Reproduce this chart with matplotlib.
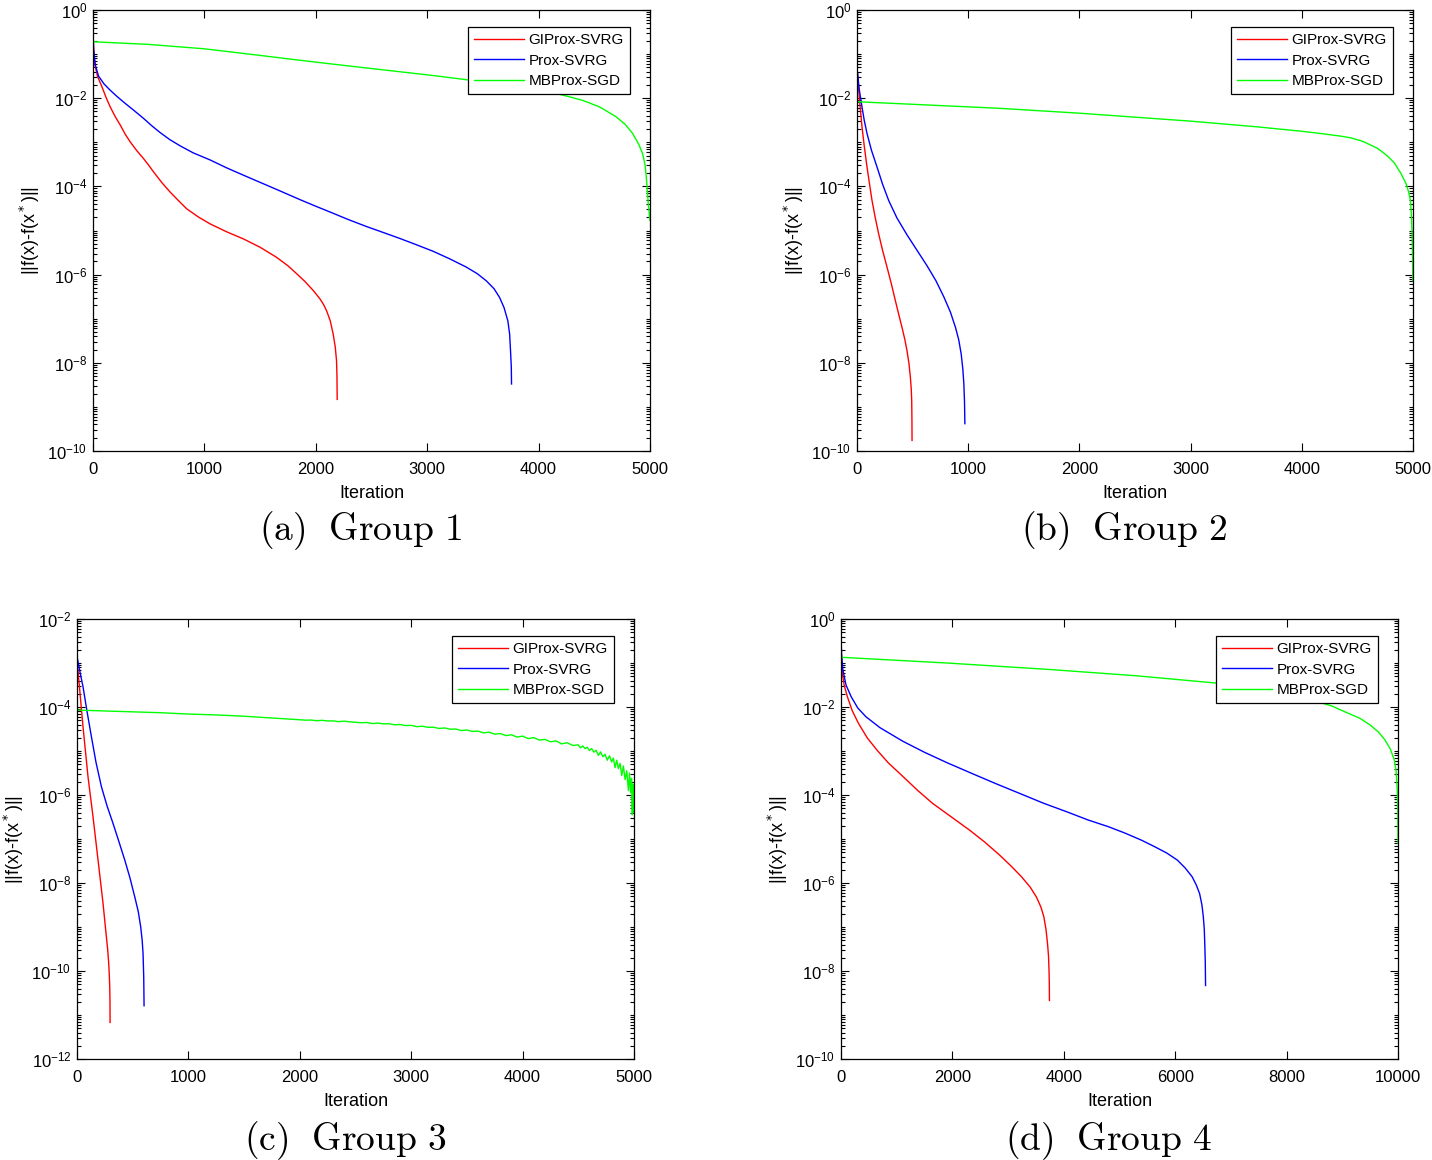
import numpy as np
import matplotlib
matplotlib.use("Agg")
import matplotlib.pyplot as plt
from matplotlib.ticker import FixedLocator, LogFormatterSciNotation, NullFormatter

plt.rcParams['font.family'] = ['Liberation Sans', 'DejaVu Sans']

labels = ["GIProx-SVRG", "Prox-SVRG", "MBProx-SGD"]
colors = ["#ff0000", "#0000ff", "#00ff00"]
captions = ["(a)", "(b)", "(c)", "(d)"]
groups = ["Group 1", "Group 2", "Group 3", "Group 4"]

# ---- Group 1 (values stored as log10 of ||f(x)-f(x*)||) ----
red_a_it = [0, 5, 15, 40, 80, 120, 155, 200, 245, 290, 334, 390, 454, 500, 543, 620, 693, 770, 842, 950,
            1051, 1200, 1350, 1500, 1649, 1750, 1828, 1900, 1977, 2037, 2070, 2097, 2130, 2156, 2175, 2186,
            2190, 2192]
red_a_lg = [-0.53, -0.85, -1.21, -1.50, -1.74, -2.00, -2.20, -2.42, -2.61, -2.82, -2.99, -3.18, -3.37, -3.52,
            -3.67, -3.92, -4.13, -4.33, -4.51, -4.70, -4.85, -5.03, -5.19, -5.38, -5.61, -5.80, -5.98, -6.15,
            -6.36, -6.55, -6.68, -6.82, -7.05, -7.35, -7.65, -7.95, -8.30, -8.83]
blue_a_it = [0, 6, 21, 50, 100, 155, 215, 290, 364, 450, 530, 603, 690, 782, 900, 1051, 1200, 1400, 1649,
             1858, 2000, 2156, 2300, 2455, 2600, 2754, 2900, 3052, 3200, 3351, 3450, 3530, 3600, 3650, 3690,
             3724, 3740, 3748, 3755, 3757]
blue_a_lg = [-0.49, -0.91, -1.25, -1.50, -1.68, -1.82, -1.96, -2.12, -2.27, -2.45, -2.63, -2.78, -2.94, -3.08,
             -3.24, -3.40, -3.58, -3.80, -4.07, -4.30, -4.45, -4.61, -4.76, -4.91, -5.04, -5.18, -5.32, -5.47,
             -5.64, -5.83, -5.98, -6.14, -6.32, -6.52, -6.75, -7.05, -7.35, -7.73, -8.10, -8.48]
green_a_it = [0, 500, 1000, 1500, 1858, 2300, 2754, 3100, 3381, 3750, 4098, 4250, 4396, 4550, 4695, 4780,
              4844, 4900, 4934, 4955, 4964, 4972, 4978, 4985, 4992, 5000]
green_a_lg = [-0.72, -0.78, -0.88, -1.03, -1.14, -1.27, -1.40, -1.50, -1.59, -1.72, -1.86, -1.95, -2.05, -2.20,
              -2.42, -2.60, -2.80, -3.05, -3.26, -3.50, -3.71, -3.95, -4.17, -4.40, -4.60, -4.77]

# ---- Group 2 ----
red_b_it = [0, 5, 15, 23, 45, 65, 90, 110, 135, 165, 195, 230, 270, 310, 345, 375, 405, 430, 450, 468, 480,
            488, 492, 494, 495]
red_b_lg = [-1.32, -1.45, -1.80, -2.05, -2.65, -3.08, -3.56, -3.90, -4.32, -4.72, -5.08, -5.45, -5.83, -6.22,
            -6.59, -6.90, -7.20, -7.47, -7.73, -8.03, -8.33, -8.60, -8.86, -9.30, -9.76]
blue_b_it = [0, 10, 20, 45, 65, 90, 130, 180, 230, 285, 360, 450, 540, 630, 710, 780, 840, 886, 915, 937,
             952, 961, 967, 970]
blue_b_lg = [-1.32, -1.55, -1.80, -2.20, -2.50, -2.80, -3.18, -3.56, -3.95, -4.32, -4.72, -5.10, -5.45, -5.80,
             -6.14, -6.50, -6.85, -7.20, -7.48, -7.80, -8.15, -8.48, -8.90, -9.38]
green_b_it = [0, 1288, 2000, 3000, 3600, 4000, 4200, 4350, 4443, 4550, 4683, 4770, 4833, 4890, 4938, 4960,
              4977, 4986, 4992, 4996, 4998]
green_b_lg = [-2.08, -2.23, -2.34, -2.52, -2.65, -2.75, -2.81, -2.86, -2.90, -2.98, -3.14, -3.31, -3.47, -3.70,
              -3.94, -4.12, -4.32, -4.65, -5.08, -5.60, -6.14]

# ---- Group 3 ----
red_c_it = [0, 24, 54, 99, 144, 189, 234, 264, 275, 285, 290, 294, 296, 297]
red_c_lg = [-2.93, -3.60, -4.45, -5.59, -6.50, -7.48, -8.47, -9.23, -9.50, -9.84, -10.10, -10.37, -10.70, -11.17]
blue_c_it = [0, 25, 54, 90, 129, 170, 219, 270, 324, 375, 429, 475, 519, 550, 572, 585, 593, 599, 602]
blue_c_lg = [-2.85, -3.18, -3.54, -4.10, -4.67, -5.25, -5.81, -6.25, -6.65, -7.05, -7.48, -7.88, -8.32, -8.65,
             -9.00, -9.30, -9.61, -10.14, -10.79]
green_c_it = [0, 250, 500, 750, 1000, 1250, 1500, 1750, 2000, 2050, 2100, 2150, 2200, 2250, 2300, 2350,
              2400, 2450, 2500, 2550, 2600, 2650, 2700, 2750, 2800, 2850, 2900, 2950, 3000, 3050, 3100,
              3150, 3200, 3250, 3300, 3350, 3400, 3450, 3500, 3550, 3600, 3650, 3700, 3750, 3800, 3850,
              3900, 3950, 4000, 4050, 4100, 4150, 4200, 4250, 4300, 4350, 4400, 4450, 4500, 4520, 4540,
              4560, 4580, 4600, 4620, 4640, 4660, 4680, 4700, 4720, 4740, 4760, 4780, 4800, 4815, 4830,
              4845, 4860, 4875, 4890, 4905, 4920, 4935, 4950, 4960, 4970, 4978, 4985, 4990, 4995, 5000]
green_c_lg = [-4.07, -4.09, -4.11, -4.13, -4.16, -4.18, -4.21, -4.25, -4.290, -4.300, -4.296, -4.312, -4.303,
              -4.318, -4.315, -4.333, -4.322, -4.338, -4.347, -4.358, -4.352, -4.376, -4.366, -4.383, -4.380,
              -4.404, -4.398, -4.421, -4.418, -4.446, -4.437, -4.462, -4.459, -4.488, -4.476, -4.505, -4.500,
              -4.536, -4.522, -4.555, -4.548, -4.588, -4.572, -4.618, -4.604, -4.650, -4.632, -4.684, -4.662,
              -4.718, -4.695, -4.752, -4.736, -4.790, -4.770, -4.838, -4.812, -4.875, -4.860, -4.930, -4.885,
              -4.945, -4.915, -4.990, -4.945, -5.025, -4.985, -5.100, -5.020, -5.130, -5.075, -5.210, -5.110,
              -5.250, -5.160, -5.380, -5.210, -5.400, -5.280, -5.560, -5.340, -5.650, -5.450, -5.900, -5.500,
              -5.950, -5.620, -6.450, -5.750, -6.400, -6.000]

# ---- Group 4 ----
red_d_it = [0, 10, 33, 60, 113, 200, 313, 470, 646, 850, 1112, 1380, 1644, 1950, 2310, 2580, 2843, 3050,
            3242, 3400, 3509, 3590, 3642, 3680, 3708, 3725, 3735, 3740, 3742]
red_d_lg = [-0.47, -0.95, -1.31, -1.52, -1.76, -2.08, -2.37, -2.70, -2.98, -3.27, -3.58, -3.90, -4.19, -4.47,
            -4.80, -5.07, -5.36, -5.61, -5.86, -6.10, -6.32, -6.55, -6.77, -7.05, -7.38, -7.65, -7.99, -8.30,
            -8.67]
blue_d_it = [0, 10, 33, 90, 180, 300, 446, 700, 1112, 1500, 1911, 2350, 2776, 3200, 3642, 4050, 4441, 4800,
             5107, 5400, 5639, 5850, 6039, 6180, 6305, 6380, 6438, 6480, 6505, 6522, 6531, 6540, 6545]
blue_d_lg = [-0.39, -0.80, -1.15, -1.50, -1.76, -2.02, -2.22, -2.47, -2.78, -3.03, -3.27, -3.51, -3.74, -3.96,
             -4.19, -4.38, -4.57, -4.72, -4.87, -5.03, -5.18, -5.32, -5.48, -5.66, -5.86, -6.05, -6.24, -6.50,
             -6.77, -7.05, -7.38, -7.80, -8.33]
green_d_it = [0, 1900, 3775, 5300, 6771, 7700, 8435, 8800, 9101, 9320, 9501, 9650, 9767, 9860, 9933, 9965,
              9980, 9990, 9996, 10000]
green_d_lg = [-0.87, -1.00, -1.15, -1.29, -1.46, -1.62, -1.84, -1.97, -2.14, -2.26, -2.41, -2.57, -2.75, -2.95,
              -3.20, -3.45, -3.74, -4.00, -4.34, -5.10]

panels = [
    dict(series=[(red_a_it, red_a_lg), (blue_a_it, blue_a_lg), (green_a_it, green_a_lg)],
         xmax=5000, xticks=[0, 1000, 2000, 3000, 4000, 5000], ylo=-10, yhi=0),
    dict(series=[(red_b_it, red_b_lg), (blue_b_it, blue_b_lg), (green_b_it, green_b_lg)],
         xmax=5000, xticks=[0, 1000, 2000, 3000, 4000, 5000], ylo=-10, yhi=0),
    dict(series=[(red_c_it, red_c_lg), (blue_c_it, blue_c_lg), (green_c_it, green_c_lg)],
         xmax=5000, xticks=[0, 1000, 2000, 3000, 4000, 5000], ylo=-12, yhi=-2),
    dict(series=[(red_d_it, red_d_lg), (blue_d_it, blue_d_lg), (green_d_it, green_d_lg)],
         xmax=10000, xticks=[0, 2000, 4000, 6000, 8000, 10000], ylo=-10, yhi=0),
]

W, H = 1432, 1160
fig = plt.figure(figsize=(W / 100, H / 100), dpi=100)

# axes boxes in pixels: left, top, right, bottom
boxes = [(93, 10, 650, 451), (857, 10, 1413, 451), (77, 619, 634, 1059), (841, 619, 1398, 1059)]
cap_pos = [(360, 531), (1124, 531), (345, 1141), (1108, 1141)]

for i, (p, b) in enumerate(zip(panels, boxes)):
    l, t, r, btm = b
    ax = fig.add_axes([l / W, 1 - btm / H, (r - l) / W, (btm - t) / H])
    for (it, lg), c, lab in zip(p['series'], colors, labels):
        ax.plot(it, 10.0 ** np.array(lg), color=c, lw=1.0, label=lab)
    ax.set_yscale('log')
    ax.set_xlim(0, p['xmax'])
    ax.set_ylim(10.0 ** p['ylo'], 10.0 ** p['yhi'])
    ax.set_xticks(p['xticks'])
    ax.set_xticklabels([str(v) for v in p['xticks']])
    majors = [10.0 ** k for k in range(p['ylo'], p['yhi'] + 1, 2)]
    ax.yaxis.set_major_locator(FixedLocator(majors))
    ax.yaxis.set_major_formatter(LogFormatterSciNotation())
    minors = [m * 10.0 ** k for k in range(p['ylo'], p['yhi']) for m in range(1, 10)
              if not (m == 1 and (k - p['ylo']) % 2 == 0)]
    ax.yaxis.set_minor_locator(FixedLocator(minors))
    ax.yaxis.set_minor_formatter(NullFormatter())
    ax.tick_params(which='both', direction='in', top=True, right=True, labelsize=12, width=0.8)
    ax.tick_params(which='major', length=6)
    ax.tick_params(which='minor', length=3)
    ax.tick_params(axis='x', pad=8)
    ax.tick_params(axis='y', pad=4)
    for s in ax.spines.values():
        s.set_linewidth(0.9)
    ax.set_xlabel('Iteration', fontsize=13, labelpad=6)
    ax.set_ylabel(r'||f(x)-f(x$^*$)||', fontsize=13, labelpad=4)
    leg = ax.legend(loc='upper right', bbox_to_anchor=(1 - 20 / (r - l), 1 - 17 / (btm - t)),
                    fontsize=11, frameon=True, fancybox=False, framealpha=1, edgecolor='black',
                    handlelength=3.3, handletextpad=0.3, borderpad=0.4, labelspacing=0.42,
                    borderaxespad=0)
    leg.get_frame().set_linewidth(0.9)
    cx, cy = cap_pos[i]
    fig.text(cx / W, 1 - cy / H, r'$\mathrm{%s\ \ %s}$' % (captions[i], groups[i].replace(' ', r'\ ')),
             fontsize=27, ha='center', va='center', math_fontfamily='cm')

fig.savefig('out.png', dpi=100)
